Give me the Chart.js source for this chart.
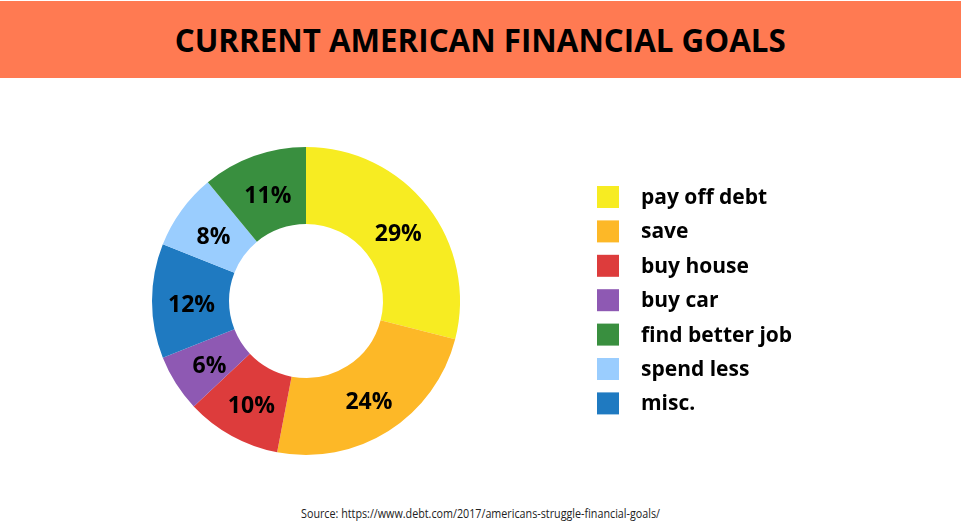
<!DOCTYPE html>
<html><head><meta charset="utf-8">
<script src="https://cdn.jsdelivr.net/npm/chart.js@4"></script>
<style>
html,body{margin:0;padding:0;background:#fff;width:961px;height:522px;overflow:hidden;font-family:'Open Sans',sans-serif;}
#header{position:absolute;left:0;top:1px;width:961px;height:77px;background:#FF7A52;display:flex;align-items:center;justify-content:center;}
#header span{display:inline-block;font-weight:700;font-size:32px;color:#000;white-space:nowrap;transform-origin:center;line-height:1;}
#wrap{position:absolute;left:0;top:78px;width:961px;height:417px;}
#source{position:absolute;left:0;top:506px;width:961px;height:16px;display:flex;justify-content:center;align-items:center;}
#source span{display:inline-block;font-size:12px;color:#222;white-space:nowrap;transform-origin:center;line-height:1;}
</style></head>
<body>
<div id="header"><span id="title">CURRENT AMERICAN FINANCIAL GOALS</span></div>
<div id="wrap"><canvas id="c" width="961" height="417"></canvas></div>
<div id="source"><span id="src">Source: https://www.debt.com/2017/americans-struggle-financial-goals/</span></div>
<script>
// Data (ring order, clockwise from top)
const categories = ['pay off debt', 'save', 'buy house', 'buy car', 'misc.', 'spend less', 'find better job'];
const values = [29, 24, 10, 6, 12, 8, 11];
const colors = ['#F7EC22', '#FDB827', '#DD3C3C', '#8E59B3', '#1F7AC1', '#9ACDFE', '#398F3F'];
// Legend order as shown in the reference
const legendOrder = ['pay off debt', 'save', 'buy house', 'buy car', 'find better job', 'spend less', 'misc.'];

function fitWidth(id, w) {
  const el = document.getElementById(id);
  const cur = el.getBoundingClientRect().width;
  el.style.transform = 'scaleX(' + (w / cur) + ')';
}
fitWidth('title', 611);
fitWidth('src', 359);

const labelPlugin = {
  id: 'sliceLabels',
  afterDatasetsDraw(chart) {
    const ctx = chart.ctx;
    const meta = chart.getDatasetMeta(0);
    ctx.save();
    ctx.font = "700 23px 'Open Sans'";
    ctx.fillStyle = '#000';
    ctx.textAlign = 'center';
    ctx.textBaseline = 'middle';
    meta.data.forEach((arc, i) => {
      const p = arc.tooltipPosition();
      ctx.fillText(chart.data.datasets[0].data[i] + '%', p.x + 1, p.y + 4);
    });
    ctx.restore();
  }
};

const legendPlugin = {
  id: 'sideLegend',
  afterDraw(chart) {
    const ctx = chart.ctx;
    const ds = chart.data.datasets[0];
    ctx.save();
    ctx.font = "700 21px 'Open Sans'";
    ctx.textAlign = 'left';
    ctx.textBaseline = 'middle';
    legendOrder.forEach((name, k) => {
      const idx = chart.data.labels.indexOf(name);
      const top = 108 + k * 34.4;
      ctx.fillStyle = ds.backgroundColor[idx];
      ctx.fillRect(597, top, 22, 22);
      ctx.fillStyle = '#000';
      ctx.fillText(name, 641, top + 12);
    });
    ctx.restore();
  }
};

new Chart(document.getElementById('c'), {
  type: 'doughnut',
  data: {
    labels: categories,
    datasets: [{ data: values, backgroundColor: colors, borderWidth: 0, hoverOffset: 0 }]
  },
  options: {
    responsive: false,
    animation: false,
    cutout: '50%',
    layout: { padding: { top: 69, bottom: 40, left: 0, right: 349 } },
    plugins: { legend: { display: false }, tooltip: { enabled: false }, title: { display: false } }
  },
  plugins: [labelPlugin, legendPlugin]
});
</script>
</body></html>
